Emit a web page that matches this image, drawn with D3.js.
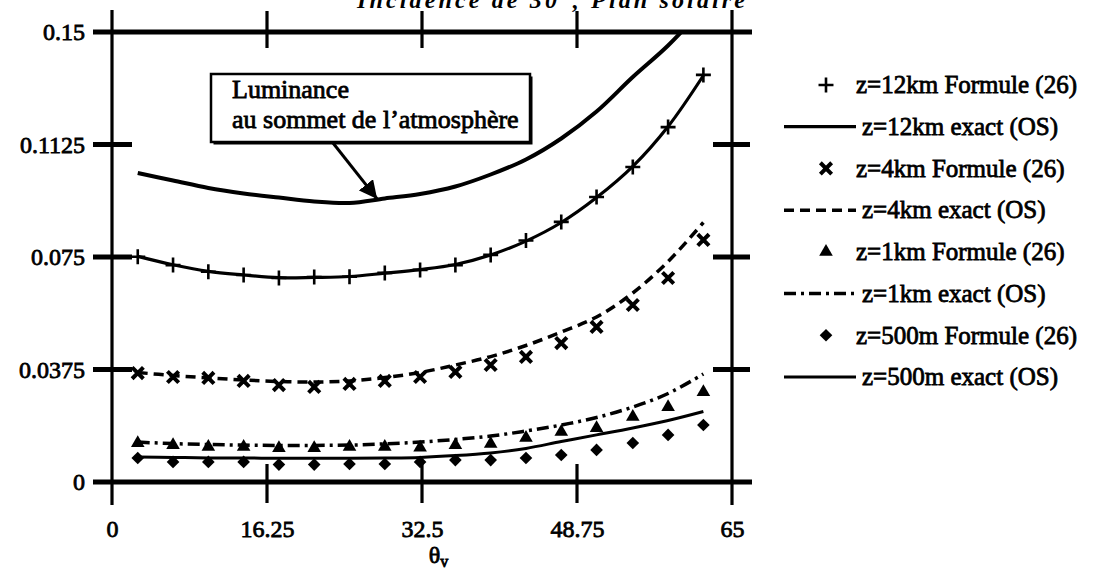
<!DOCTYPE html>
<html>
<head>
<meta charset="utf-8">
<script src="https://cdn.jsdelivr.net/npm/d3@7"></script>
<style>
  body { margin: 0; background: #fff; }
  svg { display: block; }
  text { font-family: "Liberation Serif", "Times New Roman", serif; fill: #000; }
</style>
</head>
<body>
<script>
const SVG_WIDTH = 1099;
const SVG_HEIGHT = 576;
const INK = '#000';

// viewing angles (deg) of the computed points
const theta = [2.7, 6.4, 10.1, 13.8, 17.5, 21.2, 24.9, 28.6, 32.3, 36.0, 39.7, 43.4, 47.1, 50.8, 54.6, 58.3, 62.0];

// luminance at top of atmosphere
const toa = [0.103, 0.1005, 0.098, 0.0962, 0.0948, 0.0935, 0.093, 0.0945, 0.096, 0.0985, 0.1025, 0.1075, 0.1145, 0.1235, 0.135, 0.1455, 0.158];

const formule12 = [0.0751, 0.0723, 0.0701, 0.069, 0.068, 0.0683, 0.0684, 0.0697, 0.0707, 0.0723, 0.0757, 0.0805, 0.0867, 0.095, 0.105, 0.1183, 0.1357];
const exact12   = [0.0752, 0.0724, 0.0702, 0.069, 0.0681, 0.0682, 0.0685, 0.0696, 0.0708, 0.0725, 0.0757, 0.0803, 0.0865, 0.0948, 0.1052, 0.1185, 0.1355];

const formule4 = [0.0363, 0.035, 0.0347, 0.0337, 0.0323, 0.0317, 0.0327, 0.0337, 0.035, 0.0367, 0.039, 0.0417, 0.0463, 0.0517, 0.059, 0.068, 0.0807];
const exact4   = [0.0365, 0.0355, 0.0347, 0.034, 0.0335, 0.0333, 0.0337, 0.0348, 0.0365, 0.039, 0.0418, 0.0455, 0.05, 0.055, 0.063, 0.0735, 0.0865];

const formule1 = [0.013, 0.0123, 0.0117, 0.0117, 0.0113, 0.0113, 0.0117, 0.0117, 0.0115, 0.0123, 0.0127, 0.0147, 0.0167, 0.018, 0.0217, 0.025, 0.03];
const exact1   = [0.0133, 0.0128, 0.0125, 0.0123, 0.0122, 0.0122, 0.0123, 0.0127, 0.0133, 0.0142, 0.0153, 0.017, 0.019, 0.0215, 0.025, 0.0295, 0.036];

const formule500 = [0.008, 0.0067, 0.0067, 0.0067, 0.0058, 0.0058, 0.006, 0.006, 0.0067, 0.0073, 0.0073, 0.008, 0.009, 0.0107, 0.013, 0.0157, 0.019];
const exact500   = [0.0083, 0.0082, 0.008, 0.008, 0.0079, 0.0079, 0.0079, 0.008, 0.0082, 0.0088, 0.0097, 0.0112, 0.0135, 0.0157, 0.018, 0.0205, 0.0235];

const xTicks = [0, 16.25, 32.5, 48.75, 65];
const xTickLabels = ['0', '16.25', '32.5', '48.75', '65'];
const yTicks = [0, 0.0375, 0.075, 0.1125, 0.15];
const yTickLabels = ['0', '0.0375', '0.075', '0.1125', '0.15'];

const legendLabels = [
  'z=12km Formule (26)', 'z=12km exact (OS)',
  'z=4km Formule (26)', 'z=4km exact (OS)',
  'z=1km Formule (26)', 'z=1km exact (OS)',
  'z=500m Formule (26)', 'z=500m exact (OS)'
];

const TITLE = 'Incidence de 30°, Plan solaire';
const NOTE = ['Luminance', 'au sommet de l\u2019atmosphère'];

// styles
const TEXT_WEIGHT = 0.8; // outline to thicken the scanned-looking type
const markerStyle = {
  plus:     { type: d3.symbolPlus, size: 75, fill: 'none', stroke: 2.6 },
  cross:    { type: d3.symbolX, size: 85, fill: 'none', stroke: 4 },
  triangle: { type: d3.symbolTriangle, size: 80, fill: INK, stroke: 0 },
  diamond:  { type: d3.symbolSquare, size: 80, fill: INK, stroke: 0, rotate: 45 }
};
const lineStyle = {
  toa:  { width: 4, dash: null },
  s12:  { width: 3.2, dash: null },
  s4:   { width: 3.5, dash: '10,6' },
  s1:   { width: 3.5, dash: '12,5,3,5' },
  s500: { width: 3, dash: null }
};

const x = d3.scaleLinear().domain([0, 65]).range([112, 732]);
const y = d3.scaleLinear().domain([0, 0.15]).range([482, 32]);

const svg = d3.select('body').append('svg')
    .attr('width', SVG_WIDTH)
    .attr('height', SVG_HEIGHT);

svg.append('clipPath').attr('id', 'plot')
  .append('rect')
    .attr('x', x(0)).attr('y', y(0.15))
    .attr('width', x(65) - x(0)).attr('height', y(0) - y(0.15));

const pts = vals => theta.map((t, i) => [t, vals[i]]);

const line = d3.line()
  .x(d => x(d[0]))
  .y(d => y(d[1]))
  .curve(d3.curveCatmullRom);

const drawLine = (vals, style, clip) => {
  const p = svg.append('path')
    .attr('d', line(pts(vals)))
    .attr('fill', 'none')
    .attr('stroke', INK)
    .attr('stroke-width', style.width)
    .attr('stroke-linejoin', 'round');
  if (style.dash) p.attr('stroke-dasharray', style.dash);
  if (clip) p.attr('clip-path', 'url(#plot)');
  return p;
};

const symbolPath = (m, cx, cy) => {
  return svg.append('path')
    .attr('d', d3.symbol(m.type, m.size)())
    .attr('transform', `translate(${cx},${cy})` + (m.rotate ? ` rotate(${m.rotate})` : ''))
    .attr('fill', m.fill)
    .attr('stroke', m.stroke ? INK : 'none')
    .attr('stroke-width', m.stroke);
};

const drawMarkers = (vals, m) => {
  pts(vals).forEach(d => symbolPath(m, x(d[0]), y(d[1])));
};

// ---- frame ----
const frame = svg.append('g').attr('stroke', INK).attr('stroke-linecap', 'butt');

// horizontal: full lines at 0 and 0.15, short ticks on both sides in between
yTicks.forEach(v => {
  if (v === 0 || v === 0.15) {
    frame.append('line')
      .attr('x1', x(0) - 19).attr('x2', x(65) + 20)
      .attr('y1', y(v)).attr('y2', y(v))
      .attr('stroke-width', 5);
  } else {
    frame.append('line')
      .attr('x1', x(0) - 19).attr('x2', x(0) + 20)
      .attr('y1', y(v)).attr('y2', y(v))
      .attr('stroke-width', 5);
    frame.append('line')
      .attr('x1', x(65) - 19).attr('x2', x(65) + 18)
      .attr('y1', y(v)).attr('y2', y(v))
      .attr('stroke-width', 5);
  }
});

xTicks.forEach(v => {
  if (v === 0 || v === 65) {
    frame.append('line')
      .attr('x1', x(v)).attr('x2', x(v))
      .attr('y1', y(0.15) - 22).attr('y2', y(0) + 23)
      .attr('stroke-width', 3.2);
  } else {
    frame.append('line')
      .attr('x1', x(v)).attr('x2', x(v))
      .attr('y1', y(0.15) - 21).attr('y2', y(0.15) + 16)
      .attr('stroke-width', 3.2);
    frame.append('line')
      .attr('x1', x(v)).attr('x2', x(v))
      .attr('y1', y(0) - 18).attr('y2', y(0) + 21)
      .attr('stroke-width', 3.2);
  }
});

// tick labels through d3 axes
const xAxis = svg.append('g')
  .attr('transform', `translate(0,${y(0)})`)
  .call(d3.axisBottom(x).tickValues(xTicks).tickFormat((d, i) => xTickLabels[i]).tickSize(0).tickPadding(38));
const yAxis = svg.append('g')
  .attr('transform', `translate(${x(0)},0)`)
  .call(d3.axisLeft(y).tickValues(yTicks).tickFormat((d, i) => yTickLabels[i]).tickSize(0).tickPadding(27));
[xAxis, yAxis].forEach(g => {
  g.select('.domain').remove();
  g.selectAll('text')
    .attr('fill', INK)
    .style('font-family', '"Liberation Serif", "Times New Roman", serif')
    .style('font-size', '24px')
    .attr('stroke', INK).attr('stroke-width', TEXT_WEIGHT);
});

// axis title
const xt = svg.append('text')
  .attr('x', x(33.2)).attr('y', 563)
  .style('font-size', '24px')
  .attr('stroke', INK).attr('stroke-width', TEXT_WEIGHT);
xt.append('tspan').text('θ');
xt.append('tspan').attr('dy', 4).style('font-size', '16px').text('v');

// chart title, mostly cut off by the top edge as in the scan
svg.append('text')
  .attr('x', 357).attr('y', 8)
  .attr('textLength', 388).attr('lengthAdjust', 'spacing')
  .style('font-size', '24px')
  .style('font-style', 'italic')
  .style('font-weight', 'bold')
  .text(TITLE);

// ---- data ----
drawLine(toa, lineStyle.toa, true);
drawLine(exact12, lineStyle.s12);
drawLine(exact4, lineStyle.s4);
drawLine(exact1, lineStyle.s1);
drawLine(exact500, lineStyle.s500);

drawMarkers(formule12, markerStyle.plus);
drawMarkers(formule4, markerStyle.cross);
drawMarkers(formule1, markerStyle.triangle);
drawMarkers(formule500, markerStyle.diamond);

// ---- annotation box ----
const box = { x: 211, y: 74, w: 319, h: 68 };
svg.append('rect')
  .attr('x', box.x + 2.5).attr('y', box.y + 2.5)
  .attr('width', box.w).attr('height', box.h)
  .attr('fill', INK);
svg.append('rect')
  .attr('x', box.x).attr('y', box.y)
  .attr('width', box.w).attr('height', box.h)
  .attr('fill', '#fff').attr('stroke', INK).attr('stroke-width', 2.5);
NOTE.forEach((t, i) => {
  svg.append('text')
    .attr('x', box.x + 21).attr('y', box.y + 24 + i * 30)
    .style('font-size', '26px')
    .attr('stroke', INK).attr('stroke-width', TEXT_WEIGHT)
    .text(t);
});

svg.append('defs').append('marker')
    .attr('id', 'head')
    .attr('viewBox', '0 0 10 10')
    .attr('refX', 10).attr('refY', 5)
    .attr('markerWidth', 6).attr('markerHeight', 6)
    .attr('markerUnits', 'strokeWidth')
    .attr('orient', 'auto')
  .append('path').attr('d', 'M0,0L10,5L0,10Z').attr('fill', INK);

svg.append('line')
  .attr('x1', box.x + 122).attr('y1', box.y + box.h + 1)
  .attr('x2', x(27.8)).attr('y2', y(0.0937) - 2)
  .attr('stroke', INK).attr('stroke-width', 3)
  .attr('marker-end', 'url(#head)');

// ---- legend ----
const legendY = d3.scaleLinear().domain([0, 7]).range([85, 377]);
const legendKeys = [
  { marker: markerStyle.plus }, { line: lineStyle.s12 },
  { marker: markerStyle.cross }, { line: lineStyle.s4 },
  { marker: markerStyle.triangle }, { line: lineStyle.s1 },
  { marker: markerStyle.diamond }, { line: lineStyle.s500 }
];

legendLabels.forEach((label, i) => {
  const ly = legendY(i);
  const k = legendKeys[i];
  if (k.marker) {
    symbolPath(k.marker, 826, ly);
  } else {
    const l = svg.append('line')
      .attr('x1', 784).attr('x2', 856)
      .attr('y1', ly).attr('y2', ly)
      .attr('stroke', INK).attr('stroke-width', k.line.width);
    if (k.line.dash) l.attr('stroke-dasharray', k.line.dash);
  }
  svg.append('text')
    .attr('x', k.marker ? 856 : 862)
    .attr('y', ly).attr('dy', '0.33em')
    .style('font-size', '25px')
    .attr('stroke', INK).attr('stroke-width', TEXT_WEIGHT)
    .text(label);
});
</script>
</body>
</html>
